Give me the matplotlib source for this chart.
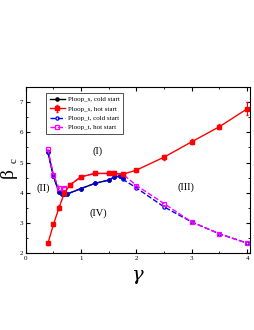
import matplotlib
matplotlib.use("Agg")
import matplotlib.pyplot as plt
from matplotlib.ticker import MultipleLocator

plt.rcParams['font.family'] = ['Liberation Serif', 'DejaVu Serif']
plt.rcParams['mathtext.fontset'] = 'dejavuserif'

# Ploop_s, cold start
gs_cold = [0.4, 0.5, 0.6, 0.65, 0.7, 0.75, 1.0, 1.25, 1.5, 1.6, 1.7, 1.75]
bs_cold = [5.35, 4.55, 4.02, 3.95, 3.95, 3.96, 4.14, 4.31, 4.42, 4.52, 4.55, 4.5]

# Ploop_s, hot start
gs_hot = [0.4, 0.5, 0.6, 0.7, 0.8, 1.0, 1.25, 1.5, 1.6, 1.75, 2.0, 2.5, 3.0, 3.5, 4.0]
bs_hot = [2.32, 2.95, 3.5, 4.0, 4.26, 4.53, 4.64, 4.64, 4.64, 4.61, 4.75, 5.18, 5.69, 6.19, 6.78]
err_hot = [0.04, 0.05, 0.08, 0.04, 0.03, 0.03, 0.03, 0.03, 0.03, 0.04, 0.05, 0.08, 0.08, 0.08, 0.22]

# Ploop_t, cold start
gt_cold = [0.4, 0.5, 0.6, 0.65, 0.7, 0.75, 1.0, 1.25, 1.5, 1.6, 1.7, 1.75, 2.0, 2.5, 3.0, 3.5, 4.0]
bt_cold = [5.35, 4.55, 4.02, 3.95, 3.95, 3.96, 4.14, 4.31, 4.42, 4.52, 4.55, 4.45, 4.16, 3.53, 3.03, 2.64, 2.33]

# Ploop_t, hot start
gt_hot = [0.4, 0.5, 0.6, 0.7, 0.8, 1.0, 1.25, 1.5, 1.6, 1.75, 2.0, 2.5, 3.0, 3.5, 4.0]
bt_hot = [5.45, 4.6, 4.15, 4.17, 4.26, 4.53, 4.64, 4.64, 4.64, 4.62, 4.24, 3.64, 3.03, 2.64, 2.33]

fig = plt.figure(figsize=(2.55, 3.3), dpi=100)
ax = fig.add_axes([0.101, 0.233, 0.879, 0.503])

h1, = ax.plot(gs_cold, bs_cold, '-o', color='black', lw=1, ms=2.3, label='Ploop_s, cold start')
h2 = ax.errorbar(gs_hot, bs_hot, yerr=err_hot, fmt='-s', color='red', lw=1, ms=2.3,
                 elinewidth=0.8, capsize=1, label='Ploop_s, hot start')
h3, = ax.plot(gt_cold, bt_cold, '--o', color='blue', lw=1, ms=2.3, mfc='none', mew=0.9,
              label='Ploop_t, cold start')
h4, = ax.plot(gt_hot, bt_hot, '--s', color='magenta', lw=1, ms=2.3, mfc='none', mew=0.9,
              label='Ploop_t, hot start')

ax.text(1.29, 5.38, '(I)', fontsize=7.5, ha='center', va='center')
ax.text(0.32, 4.14, '(II)', fontsize=7.5, ha='center', va='center')
ax.text(2.9, 4.19, '(III)', fontsize=7.5, ha='center', va='center')
ax.text(1.31, 3.33, '(IV)', fontsize=7.5, ha='center', va='center')

ax.set_xlim(0, 4.05)
ax.set_ylim(2, 7.5)
ax.xaxis.set_major_locator(MultipleLocator(1))
ax.xaxis.set_minor_locator(MultipleLocator(0.5))
ax.yaxis.set_major_locator(MultipleLocator(1))
ax.yaxis.set_minor_locator(MultipleLocator(0.5))
ax.tick_params(which='both', direction='in', top=True, right=True, labelsize=5, pad=2)
ax.tick_params(which='major', length=3)
ax.tick_params(which='minor', length=1.5)

ax.set_xlabel(r'$\gamma$', fontsize=14)
ax.xaxis.set_label_coords(0.5, -0.09)

# y label: beta with a small subscript c, rotated like the axis label
fig.text(8 / 255, 1 - 173 / 330, 'β', fontsize=14, rotation=90, ha='center', va='center')
fig.text(14 / 255, 1 - 161 / 330, 'c', fontsize=8, rotation=90, ha='center', va='center')

leg = ax.legend([h1, h2, h3, h4], [h.get_label() for h in (h1, h2, h3, h4)],
                loc='upper left', bbox_to_anchor=(0.075, 0.985), fontsize=5,
                frameon=True, fancybox=False, edgecolor='black', handlelength=2.2,
                borderpad=0.5, labelspacing=0.5, handletextpad=0.4)
leg.get_frame().set_linewidth(0.6)

fig.savefig('out.png', dpi=100)
